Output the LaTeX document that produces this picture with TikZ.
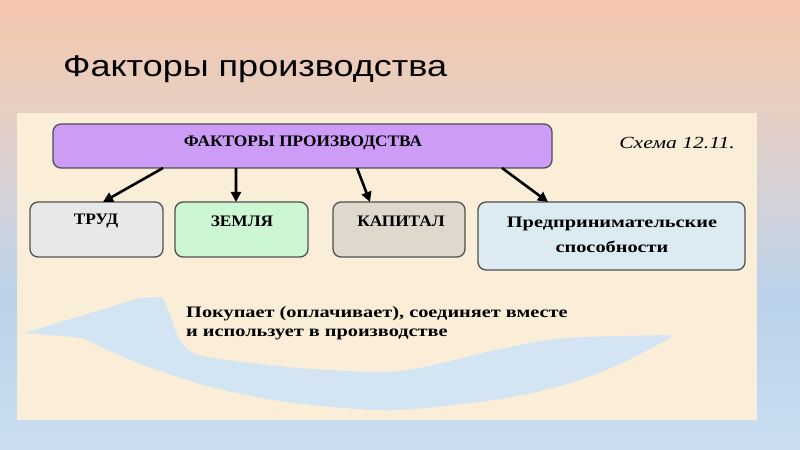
\documentclass[tikz,border=0pt]{standalone}
\usepackage{fontspec}
\setmainfont{Liberation Serif}
\newfontfamily\titlefont[FakeStretch=1.2]{Liberation Sans}
\newfontfamily\capsfont[FakeStretch=1.08]{Liberation Serif}
\newfontfamily\widefont[FakeStretch=1.27]{Liberation Serif}
\usetikzlibrary{arrows.meta}
\definecolor{bgA}{HTML}{F5C7AC}
\definecolor{bgB}{HTML}{E6CFC3}
\definecolor{bgC}{HTML}{D3D2DA}
\definecolor{bgD}{HTML}{BAD2EA}
\definecolor{bgE}{HTML}{CADEF0}
\definecolor{panelc}{HTML}{FAEED8}
\definecolor{bandc}{HTML}{D3E4F2}
\definecolor{purplec}{HTML}{CC9CF6}
\definecolor{grayc}{HTML}{E8E8E8}
\definecolor{greenc}{HTML}{CDF7D2}
\definecolor{capc}{HTML}{DED8CD}
\definecolor{bluec}{HTML}{DCEAF2}
\definecolor{edgec}{HTML}{505050}
\tikzset{
  factorbox/.style={draw=edgec, line width=1.3bp, rounded corners=8bp, inner sep=0pt, outer sep=0pt},
  boxtext/.style={font=\capsfont\fontsize{16bp}{19bp}\selectfont\bfseries, inner sep=0pt},
  widetext/.style={font=\widefont\fontsize{16bp}{19bp}\selectfont\bfseries, inner sep=0pt},
  arr/.style={line width=2.6bp, -{Triangle[length=10bp,width=10bp]}},
}
\begin{document}
\begin{tikzpicture}[x=1bp, y=-1bp]
\useasboundingbox (0,0) rectangle (800,450);
% background gradient
\shade[top color=bgA, bottom color=bgB] (0,0) rectangle (800,110.5);
\shade[top color=bgB, bottom color=bgC] (0,110) rectangle (800,200.5);
\shade[top color=bgC, bottom color=bgD] (0,200) rectangle (800,300.5);
\shade[top color=bgD, bottom color=bgE] (0,300) rectangle (800,450);
% panel
\fill[panelc] (17,113) rectangle (757,420);
% blue curved arrow
\fill[bandc] (25,333) -- plot[smooth] coordinates {(25,333) (100,310) (140,298)}
  -- (162,297) -- plot[smooth] coordinates {(162,297) (170,315) (180,340) (202,356) (300,368) (400,371) (500,349) (567,338) (670,335)}
  -- (670,338) -- plot[smooth] coordinates {(670,338) (620,364) (567,384) (500,399) (400,410) (333,407) (267,399) (200,384) (133,361) (83,338)}
  -- cycle;
% title
\node[anchor=base west, inner sep=0pt, font=\titlefont\fontsize{30bp}{36bp}\selectfont] (title) at (63,77) {Факторы производства};
% top box
\node[factorbox, fill=purplec, minimum width=499bp, minimum height=44bp] (top) at (302.5,146) {};
\node[boxtext] (toptext) at (303,143) {ФАКТОРЫ ПРОИЗВОДСТВА};
\node[inner sep=0pt, font=\widefont\fontsize{17bp}{20bp}\selectfont\itshape] (scheme) at (677,143) {Схема 12.11.};
% factor boxes
\node[factorbox, fill=grayc, minimum width=133bp, minimum height=55bp] (trud) at (96.5,229.5) {};
\node[boxtext] (trudtext) at (96,221) {ТРУД};
\node[factorbox, fill=greenc, minimum width=133bp, minimum height=55bp] (zem) at (241.5,229.5) {};
\node[boxtext] (zemtext) at (242,221) {ЗЕМЛЯ};
\node[factorbox, fill=capc, minimum width=132bp, minimum height=55bp] (cap) at (399,229.5) {};
\node[boxtext] (captext) at (401,221) {КАПИТАЛ};
\node[factorbox, fill=bluec, minimum width=267bp, minimum height=68bp] (ent) at (611.5,236) {};
\node[widetext, align=center, font=\widefont\fontsize{16bp}{25bp}\selectfont\bfseries] (enttext) at (612,235) {Предпринимательские\\способности};
% arrows
\draw[arr] ([xshift=-139.5bp]top.south) -- ([xshift=6.5bp]trud.north);
\draw[arr] ([xshift=-66.5bp]top.south) -- ([xshift=-5.5bp]zem.north);
\draw[arr] ([xshift=54.5bp]top.south) -- ([xshift=-29bp]cap.north);
\draw[arr] ([xshift=199.5bp]top.south) -- ([xshift=-63.5bp]ent.north);
% bottom text
\node[widetext, anchor=base west] (bl1) at (186,318) {Покупает (оплачивает), соединяет вместе};
\node[widetext, anchor=base west] (bl2) at (186,337) {и использует в производстве};
\end{tikzpicture}
\end{document}
